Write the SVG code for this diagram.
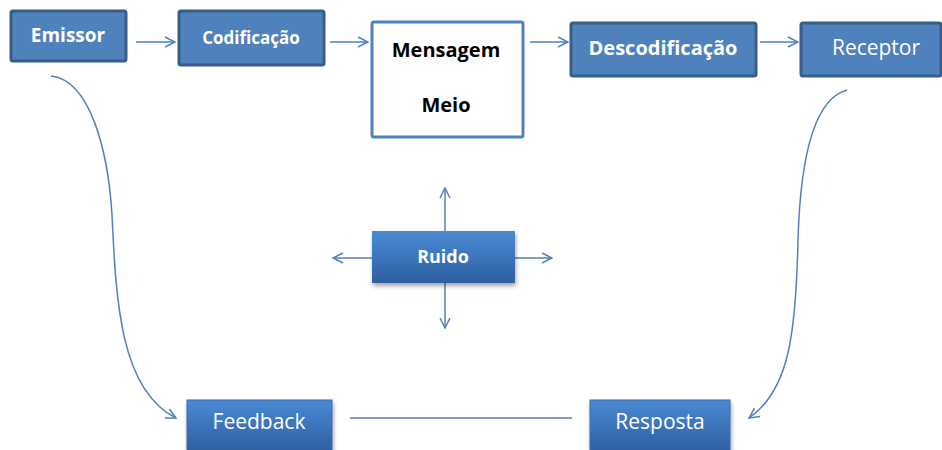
<svg xmlns="http://www.w3.org/2000/svg" width="942" height="450" viewBox="0 0 942 450">
<defs>
<style>
.box{fill:#4f81bd;stroke:#385d8a;stroke-width:3}
.wt{fill:#ffffff;font-family:"Open Sans","Liberation Sans",sans-serif;text-anchor:middle;dominant-baseline:central}
.b{font-weight:bold}
.bk{fill:#000000;font-family:"Open Sans","Liberation Sans",sans-serif;font-weight:bold;text-anchor:middle;dominant-baseline:central}
.ln{fill:none;stroke:#4f81bd;stroke-width:1.5}
</style>
<linearGradient id="g" x1="0" y1="0" x2="0" y2="1">
<stop offset="0" stop-color="#4a8ad4"/>
<stop offset="1" stop-color="#2d5fa0"/>
</linearGradient>
<filter id="sh" x="-10%" y="-10%" width="130%" height="140%">
<feDropShadow dx="1" dy="3" stdDeviation="2" flood-color="#000" flood-opacity="0.35"/>
</filter>
<marker id="ar" viewBox="0 0 12 12" refX="11" refY="6" markerWidth="12" markerHeight="12" markerUnits="userSpaceOnUse" orient="auto">
<path d="M1,1 L11,6 L1,11" fill="none" stroke="#4f81bd" stroke-width="1.5"/>
</marker>
</defs>
<g id="connectors">
<line class="ln" x1="136" y1="42" x2="175" y2="42" marker-end="url(#ar)"/>
<line class="ln" x1="330" y1="42" x2="368" y2="42" marker-end="url(#ar)"/>
<line class="ln" x1="530" y1="42" x2="568" y2="42" marker-end="url(#ar)"/>
<line class="ln" x1="760" y1="42" x2="798" y2="42" marker-end="url(#ar)"/>
<line class="ln" x1="445" y1="231" x2="445" y2="188" marker-end="url(#ar)"/>
<line class="ln" x1="445" y1="283" x2="445" y2="328" marker-end="url(#ar)"/>
<line class="ln" x1="372" y1="258" x2="333" y2="258" marker-end="url(#ar)"/>
<line class="ln" x1="515" y1="258" x2="552" y2="258" marker-end="url(#ar)"/>
<line class="ln" x1="350" y1="418" x2="572" y2="418" stroke-width="2"/>
<path class="ln" d="M51,76 C90,80 108,150 112,215 C116,300 120,390 176,418" marker-end="url(#ar)"/>
<path class="ln" d="M847,90 C810,100 800,170 798,240 C796,330 790,390 749,418" marker-end="url(#ar)"/>
</g>
<g id="emissor">
<rect class="box" x="11" y="11" width="115" height="50" rx="2"/>
<text class="wt b" x="68" y="35" font-size="19">Emissor</text>
</g>
<g id="codificacao">
<rect class="box" x="179" y="11" width="145" height="54" rx="2"/>
<text class="wt b" x="251" y="37" font-size="17">Codificação</text>
</g>
<g id="mensagem">
<rect x="372" y="22" width="151" height="115" fill="#ffffff" stroke="#4f81bd" stroke-width="3" rx="2"/>
<text class="bk" x="446" y="49" font-size="20">Mensagem</text>
<text class="bk" x="446" y="104" font-size="20">Meio</text>
</g>
<g id="descodificacao">
<rect class="box" x="571" y="23" width="185" height="53" rx="2"/>
<text class="wt b" x="663" y="47" font-size="20">Descodificação</text>
</g>
<g id="receptor">
<rect class="box" x="801" y="23" width="140" height="53" rx="2"/>
<text class="wt" x="876" y="47" font-size="21">Receptor</text>
</g>
<g id="ruido">
<rect x="372" y="231" width="143" height="52" fill="url(#g)" filter="url(#sh)"/>
<text class="wt b" x="443" y="256" font-size="18">Ruido</text>
</g>
<g id="feedback">
<rect x="187" y="400" width="145" height="52" fill="url(#g)" stroke="#3a6aa8" stroke-width="1" filter="url(#sh)"/>
<text class="wt" x="259" y="421" font-size="21">Feedback</text>
</g>
<g id="resposta">
<rect x="590" y="400" width="140" height="52" fill="url(#g)" stroke="#3a6aa8" stroke-width="1" filter="url(#sh)"/>
<text class="wt" x="660" y="421" font-size="21">Resposta</text>
</g>
</svg>
